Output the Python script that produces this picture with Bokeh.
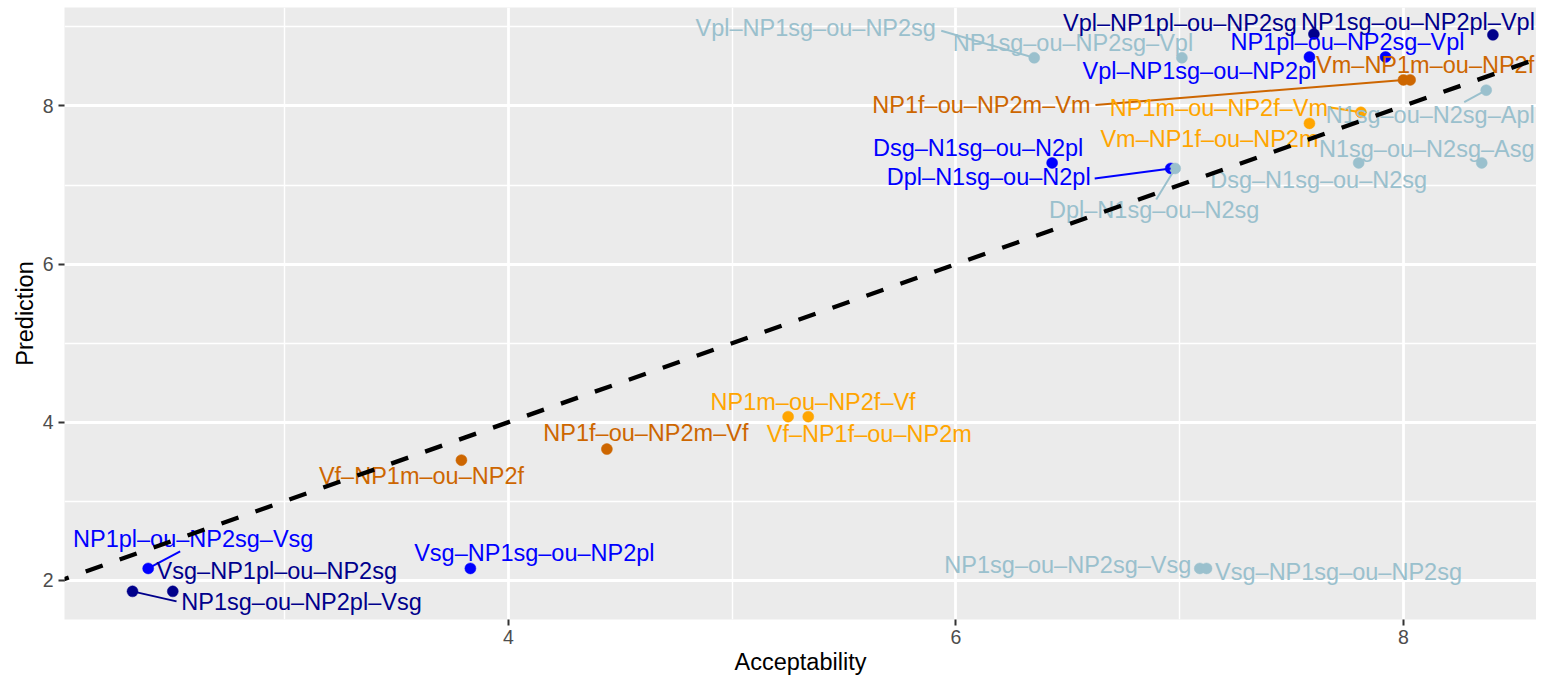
from bokeh.plotting import figure
from bokeh.models import ColumnDataSource, FixedTicker, Slope, Range1d
from bokeh.core.properties import value
from bokeh.embed import file_html
from bokeh.resources import INLINE

# ---------------- data ----------------
labels = [
    "NP1sg–ou–NP2pl–Vsg", "Vsg–NP1pl–ou–NP2sg", "NP1pl–ou–NP2sg–Vsg", "Vsg–NP1sg–ou–NP2pl",
    "Vf–NP1m–ou–NP2f", "NP1f–ou–NP2m–Vf", "NP1m–ou–NP2f–Vf", "Vf–NP1f–ou–NP2m",
    "NP1sg–ou–NP2sg–Vsg", "Vsg–NP1sg–ou–NP2sg", "Vpl–NP1sg–ou–NP2sg", "NP1sg–ou–NP2sg–Vpl",
    "Vpl–NP1pl–ou–NP2sg", "NP1sg–ou–NP2pl–Vpl", "Vpl–NP1sg–ou–NP2pl", "NP1pl–ou–NP2sg–Vpl",
    "NP1f–ou–NP2m–Vm", "Vm–NP1m–ou–NP2f", "NP1m–ou–NP2f–Vm", "Vm–NP1f–ou–NP2m",
    "N1sg–ou–N2sg–Apl", "N1sg–ou–N2sg–Asg", "Dsg–N1sg–ou–N2sg", "Dsg–N1sg–ou–N2pl",
    "Dpl–N1sg–ou–N2pl", "Dpl–N1sg–ou–N2sg",
]
acceptability = [
    2.32, 2.50, 2.39, 3.83,
    3.79, 4.44, 5.25, 5.34,
    7.09, 7.12, 6.35, 7.01,
    7.60, 8.40, 7.58, 7.92,
    8.00, 8.03, 7.81, 7.58,
    8.37, 8.35, 7.80, 6.43,
    6.96, 6.98,
]
prediction = [
    1.86, 1.86, 2.15, 2.15,
    3.52, 3.66, 4.07, 4.07,
    2.15, 2.15, 8.61, 8.61,
    8.91, 8.90, 8.62, 8.62,
    8.33, 8.33, 7.92, 7.78,
    8.20, 7.28, 7.28, 7.28,
    7.21, 7.21,
]
groups = [
    "navy", "navy", "blue", "blue",
    "darkorange", "darkorange", "orange", "orange",
    "lightblue", "lightblue", "lightblue", "lightblue",
    "navy", "navy", "blue", "blue",
    "darkorange", "darkorange", "orange", "orange",
    "lightblue", "lightblue", "lightblue", "blue",
    "blue", "lightblue",
]
abline_slope = 1.0
abline_intercept = 0.0
x_ticks = [4, 6, 8]
y_ticks = [2, 4, 6, 8]

# ---------------- styles / layout ----------------
group_colors = {
    "navy": "#00008B", "blue": "#0000FF", "lightblue": "#9AC0CD",
    "darkorange": "#CD6600", "orange": "#FFA500",
}
# repelled label placement: offset of label centre from point, in pixels (right, down)
label_dx = [169, 104, 45, 64, -40, 39, 25, 61, -132, 132, -218.5, -109, -134, -75, -110, -38,
            -422, 15, -142, -100, -56, -55, -40, -74, -182, -21]
label_dy = [11, -20, -29.5, -15.5, 16, -16, -15, 17, -3, 4, -30, -15, -11, -13, 14, -15,
            25, -15, -4, 16, 25, -14, 17, -15, 9, 42]
# leader segment end, in pixels relative to the point (None = no segment)
seg_end = [(44, 10), None, (32, -17), None, None, None, None, None, None, None, (-93, -27), None,
           None, None, None, None, (-308, 25), None, (-32, -5), None, (-22, 12), None, None, None,
           (-76, 10), (-19, 31)]

FW, FH = 1472, 612
X0, Y0, Y1 = 2.016, 1.504, 9.246
X1 = X0 + FW / 223.75
ppx = FW / (X1 - X0)
ppy = FH / (Y1 - Y0)

FONT = "Liberation Sans"

colors = [group_colors[g] for g in groups]
lx = [x + dx / ppx for x, dx in zip(acceptability, label_dx)]
ly = [y - dy / ppy for y, dy in zip(prediction, label_dy)]

src = ColumnDataSource(dict(x=acceptability, y=prediction, color=colors, label=labels, lx=lx, ly=ly))

sx0, sy0, sx1, sy1, sc = [], [], [], [], []
for x, y, c, s in zip(acceptability, prediction, colors, seg_end):
    if s is None:
        continue
    sx0.append(x); sy0.append(y)
    sx1.append(x + s[0] / ppx); sy1.append(y - s[1] / ppy)
    sc.append(c)
seg_src = ColumnDataSource(dict(x0=sx0, y0=sy0, x1=sx1, y1=sy1, color=sc))

p = figure(frame_width=FW, frame_height=FH, output_backend="svg", toolbar_location=None,
           x_range=Range1d(X0, X1), y_range=Range1d(Y0, Y1),
           min_border_left=64, min_border_right=0, min_border_top=7, min_border_bottom=50)
p.background_fill_color = "#EBEBEB"
p.border_fill_color = "white"
p.outline_line_color = None

xt = FixedTicker(ticks=x_ticks, minor_ticks=[3, 5, 7])
yt = FixedTicker(ticks=y_ticks, minor_ticks=[3, 5, 7, 9])
p.xaxis.ticker = xt
p.yaxis.ticker = yt
p.xgrid.ticker = xt
p.ygrid.ticker = yt
for g in (p.xgrid, p.ygrid):
    g.grid_line_color = "white"
    g.grid_line_width = 2.8
    g.minor_grid_line_color = "white"
    g.minor_grid_line_width = 1.4

for ax in (p.xaxis[0], p.yaxis[0]):
    ax.axis_line_color = None
    ax.major_tick_line_color = "#333333"
    ax.major_tick_line_width = 2
    ax.major_tick_out = 6
    ax.major_tick_in = 0
    ax.minor_tick_line_color = None
    ax.major_label_text_font = FONT
    ax.major_label_text_font_size = "19.5px"
    ax.major_label_text_color = "#4D4D4D"
    ax.axis_label_text_font = FONT
    ax.axis_label_text_font_size = "23.5px"
    ax.axis_label_text_font_style = "normal"
    ax.axis_label_text_color = "black"
p.xaxis.axis_label = "Acceptability"
p.yaxis.axis_label = "Prediction"
p.xaxis.major_label_standoff = 4
p.xaxis.axis_label_standoff = 2
p.yaxis.major_label_standoff = 5
p.yaxis.axis_label_standoff = 2

p.scatter("x", "y", source=src, size=11, fill_color="color", line_color="color", line_width=0.5)
p.segment("x0", "y0", "x1", "y1", source=seg_src, line_color="color", line_width=2)
p.text("lx", "ly", text="label", source=src, text_color="color", text_font=value(FONT),
       text_font_size=value("23.5px"), text_align="center", text_baseline="middle")

p.add_layout(Slope(gradient=abline_slope, y_intercept=abline_intercept, line_color="black",
                   line_width=4.3, line_dash="18 18"))

open("out.html", "w").write(file_html(p, INLINE))
